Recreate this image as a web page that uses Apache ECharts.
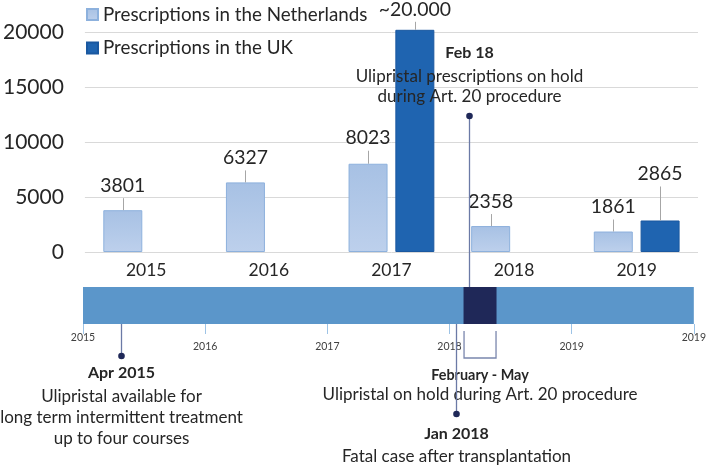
<!DOCTYPE html>
<html>
<head>
<meta charset="utf-8">
<script src="https://cdn.jsdelivr.net/npm/echarts@6/dist/echarts.min.js"></script>
<style>html,body{margin:0;padding:0;background:#fff;}#c{width:709px;height:466px;}</style>
</head>
<body>
<div id="c"></div>
<script>
// ---------- data ----------
const categories = ['2015', '2016', '2017', '2018', '2019'];
const nlValues = [3801, 6327, 8023, 2358, 1861];
const ukValues = [null, null, 20200, null, 2865];
const ukLabels = [null, null, '~20.000', null, '2865'];
const seriesNames = ['Prescriptions in the Netherlands', 'Prescriptions in the UK'];

const timelineRange = [2015, 2020];
const timelineTickLabels = ['2015', '2016', '2017', '2018', '2019', '2019'];
const holdPeriod = [2018.115, 2018.385];
const holdTitle = 'February - May';
const holdText = ['Ulipristal on hold during Art. 20 procedure'];

const eventDates = [2015.31, 2018.055, 2018.16];
const eventTitles = ['Apr 2015', 'Jan 2018', 'Feb 18'];
const eventTexts = [
  ['Ulipristal available for', 'long term intermittent treatment', 'up to four courses'],
  ['Fatal case after transplantation'],
  ['Ulipristal prescriptions on hold', 'during Art. 20 procedure']
];

// ---------- style ----------
const FONT = 'Lato';
const TXT = '#262626';
const BAR_W = 39;
const BAR_OFFSET = 23.4;
const nlLabelDist = [15, 15, 16, 15, 15];
const ukLabelDist = [0, 0, 11, 0, 37];
const BODY_FONT = '17px ' + FONT;
const TITLE_FONT = 'bold 16px ' + FONT;
// event layout: stem end, title offset, body offset, line gap (relative to bar edge)
const eventLayout = [
  { dir: 1, stem: 32, title: 49, body: 73, gap: 21 },
  { dir: 1, stem: 90, title: 110, body: 133, gap: 21 },
  { dir: -1, stem: 171, title: 234.5, body: 210.5, gap: 20.5 }
];

const chart = echarts.init(document.getElementById('c'));

const leaderData = [];
nlValues.forEach((v, i) => { if (v != null) leaderData.push([i, v, -1, nlLabelDist[i] - 3]); });
ukValues.forEach((v, i) => { if (v != null) leaderData.push([i, v, 1, ukLabelDist[i] - 3]); });

const option = {
  animation: false,
  textStyle: { fontFamily: FONT },
  legend: {
    orient: 'vertical', left: 86, top: 4, padding: 0,
    itemWidth: 11, itemHeight: 11, itemGap: 12.5,
    icon: 'rect',
    textStyle: { fontSize: 18.8, color: TXT, lineHeight: 21, fontFamily: FONT },
    data: seriesNames
  },
  grid: [
    { left: 83, right: 11, top: 32, height: 220 },
    { left: 83, right: 11, top: 287, height: 37 }
  ],
  xAxis: [
    {
      type: 'category', gridIndex: 0, data: categories,
      axisLine: { show: false }, axisTick: { show: false },
      axisLabel: { fontSize: 17.5, color: TXT, margin: 9, fontFamily: FONT }
    },
    {
      type: 'value', gridIndex: 1, min: timelineRange[0], max: timelineRange[1], interval: 1,
      axisLine: { show: false }, splitLine: { show: false },
      axisTick: { show: true, length: 10, lineStyle: { color: '#9dc3e6', width: 1 } },
      axisLabel: {
        margin: 8,
        formatter: function (v) {
          const i = Math.round(v - timelineRange[0]);
          const t = timelineTickLabels[i];
          return (i === 0 || i === timelineTickLabels.length - 1) ? '{e|' + t + '}' : '{m|' + t + '}';
        },
        rich: {
          e: { fontSize: 10.5, color: '#404040', fontFamily: FONT },
          m: { fontSize: 10.5, color: '#404040', fontFamily: FONT, padding: [9, 0, 0, 0] }
        }
      }
    }
  ],
  yAxis: [
    {
      type: 'value', gridIndex: 0, min: 0, max: 20000, interval: 5000,
      axisLine: { show: false }, axisTick: { show: false },
      splitLine: { lineStyle: { color: '#d9d9d9', width: 1 } },
      axisLabel: { fontSize: 21, color: TXT, margin: 21, fontFamily: FONT, formatter: v => String(v) }
    },
    { type: 'value', gridIndex: 1, min: 0, max: 1, show: false }
  ],
  series: [
    {
      name: seriesNames[0], type: 'bar', xAxisIndex: 0, yAxisIndex: 0,
      barWidth: BAR_W, barGap: '20%',
      itemStyle: {
        color: new echarts.graphic.LinearGradient(0, 0, 0, 1, [
          { offset: 0, color: '#a7c1e4' }, { offset: 1, color: '#bdd0ec' }
        ]),
        borderColor: '#8db1dd', borderWidth: 1
      },
      label: {
        show: true, position: 'top', fontSize: 19.4, color: TXT, fontFamily: FONT,
        distance: 15
      },
      data: nlValues.map((v, i) => ({ value: v, label: { distance: nlLabelDist[i] } }))
    },
    {
      name: seriesNames[1], type: 'bar', xAxisIndex: 0, yAxisIndex: 0,
      barWidth: BAR_W, barGap: '20%', clip: false,
      itemStyle: { color: '#1f64b0', borderColor: '#1a58a0', borderWidth: 1 },
      label: {
        show: true, position: 'top', fontSize: 19.4, color: TXT, fontFamily: FONT,
        formatter: p => ukLabels[p.dataIndex]
      },
      data: ukValues.map((v, i) => v == null ? null : ({ value: v, label: { distance: ukLabelDist[i] } }))
    },
    {
      type: 'custom', xAxisIndex: 0, yAxisIndex: 0, clip: false, silent: true, z: 3,
      data: leaderData,
      renderItem: function (params, api) {
        const p = api.coord([api.value(0), api.value(1)]);
        const x = Math.round(p[0] + api.value(2) * BAR_OFFSET) + 0.5;
        return { type: 'line', shape: { x1: x, y1: p[1], x2: x, y2: p[1] - api.value(3) },
          style: { stroke: '#a6a6a6', lineWidth: 1 } };
      }
    },
    {
      type: 'custom', xAxisIndex: 1, yAxisIndex: 1, clip: false, silent: true,
      data: [[timelineRange[0], timelineRange[1], 0], [holdPeriod[0], holdPeriod[1], 1]],
      renderItem: function (params, api) {
        const a = api.coord([api.value(0), 1]);
        const b = api.coord([api.value(1), 0]);
        const dark = api.value(2) === 1;
        const children = [{
          type: 'rect', shape: { x: a[0], y: a[1], width: b[0] - a[0], height: b[1] - a[1] },
          style: { fill: dark ? '#1f2858' : '#5b96ca' }
        }];
        if (dark) {
          const cx = (a[0] + b[0]) / 2;
          const y0 = b[1] + 7, y1 = b[1] + 34;
          children.push({ type: 'polyline', shape: { points: [[a[0] + 0.5, y0], [a[0] + 0.5, y1], [b[0] - 0.5, y1], [b[0] - 0.5, y0]] },
            style: { stroke: '#7a86ad', lineWidth: 1.3, fill: null } });
          children.push({ type: 'text', style: { text: holdTitle, x: cx, y: b[1] + 51, align: 'center', verticalAlign: 'middle',
            font: 'bold 14.4px ' + FONT, fill: TXT } });
          holdText.forEach((t, k) => children.push({ type: 'text', style: { text: t, x: cx, y: b[1] + 71 + k * 21,
            align: 'center', verticalAlign: 'middle', font: BODY_FONT, fill: TXT } }));
        }
        return { type: 'group', children: children };
      }
    },
    {
      type: 'custom', xAxisIndex: 1, yAxisIndex: 1, clip: false, silent: true, z: 5,
      data: eventDates.map((d, i) => [d, i]),
      renderItem: function (params, api) {
        const i = api.value(1);
        const L = eventLayout[i];
        const top = api.coord([api.value(0), 1]);
        const bot = api.coord([api.value(0), 0]);
        const x = Math.round(top[0]) + 0.5;
        const base = L.dir > 0 ? bot[1] : top[1];
        const end = base + L.dir * L.stem;
        const children = [
          { type: 'line', shape: { x1: x, y1: base, x2: x, y2: end }, style: { stroke: '#6b7aa6', lineWidth: 1.3 } },
          { type: 'circle', shape: { cx: x, cy: end, r: 3.3 }, style: { fill: '#1f2858' } },
          { type: 'text', style: { text: eventTitles[i], x: x, y: base + L.dir * L.title, align: 'center', verticalAlign: 'middle',
            font: TITLE_FONT, fill: TXT } }
        ];
        eventTexts[i].forEach((t, k) => children.push({ type: 'text', style: { text: t, x: x,
          y: base + L.dir * L.body + k * L.gap, align: 'center', verticalAlign: 'middle', font: BODY_FONT, fill: TXT } }));
        return { type: 'group', children: children };
      }
    }
  ]
};
chart.setOption(option);
</script>
</body>
</html>
